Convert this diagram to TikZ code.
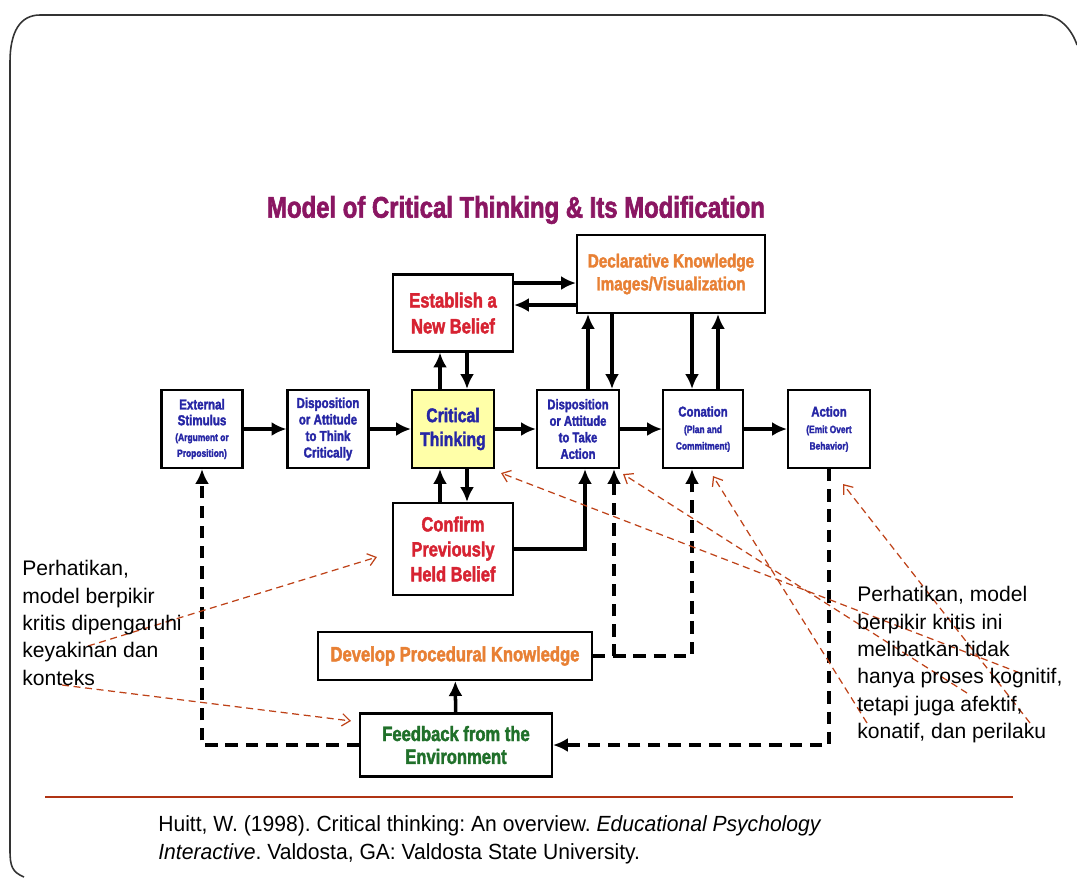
\documentclass[tikz,border=0pt]{standalone}
\usepackage{fontspec}
\setmainfont{Liberation Sans}
\newfontfamily\heavyfont[FakeStretch=0.8,FakeBold=2]{Liberation Sans}
\newfontfamily\citefont[FakeStretch=0.96]{Liberation Sans}
\usetikzlibrary{arrows.meta}
\pgfdeclarelayer{edgelayer}
\pgfdeclarelayer{nodelayer}
\pgfsetlayers{edgelayer,nodelayer,main}
\definecolor{ctblue}{RGB}{38,38,165}
\definecolor{ctred}{RGB}{215,35,50}
\definecolor{ctorange}{RGB}{232,128,52}
\definecolor{ctgreen}{RGB}{32,112,42}
\definecolor{ctpurple}{RGB}{138,22,98}
\definecolor{ctyellow}{RGB}{255,255,168}
\definecolor{notered}{RGB}{190,66,24}
\definecolor{rulered}{RGB}{176,52,20}
\tikzstyle{none}=[inner sep=0pt]
\tikzstyle{box}=[rectangle,draw=black,line width=1.2pt,fill=white,inner sep=0pt,align=center]
\tikzstyle{smallbox}=[style=box,minimum width=1.62cm,minimum height=1.56cm,text=ctblue]
\tikzstyle{thickarrow}=[-{Latex[length=8.5pt,width=8pt]},line width=2.3pt]
\tikzstyle{dasharrow}=[style=thickarrow,dash pattern=on 7pt off 4.5pt]
\tikzstyle{notearrow}=[-{Straight Barb[length=4.5pt,width=7pt]},draw=notered,line width=0.7pt,dash pattern=on 4pt off 2.6pt]
\tikzstyle{notetext}=[inner sep=0pt,align=left,font=\fontsize{12}{15.6}\selectfont]
\tikzstyle{title}=[inner sep=0pt,text=ctpurple,font=\heavyfont\bfseries\fontsize{17}{19}\selectfont]
\newcommand{\subline}[1]{{\fontsize{6}{8}\selectfont #1}}

\begin{document}
\frenchspacing
\begin{tikzpicture}[x=0.02cm,y=-0.02cm]
	\useasboundingbox (0,0) rectangle (1077,877);
	% slide frame
	\draw [line width=0.9pt, draw=black!80] (24,877) .. controls (12,872) and (10,866) .. (10,850) -- (10,62) .. controls (10,32) and (20,15) .. (40,15) -- (1042,15) .. controls (1060,15) and (1072,30) .. (1077,45);
	\begin{pgfonlayer}{nodelayer}
		\node [style=title] (title) at (516,210) {Model of Critical Thinking \& Its Modification};
		\node [style=smallbox, font=\heavyfont\bfseries\fontsize{8.2}{9}\selectfont] (es) at (202,429) {External\\Stimulus\\\subline{(Argument or}\\\subline{Proposition)}};
		\node [style=smallbox, font=\heavyfont\bfseries\fontsize{8.2}{9.4}\selectfont] (dt) at (328,429) {Disposition\\or Attitude\\to Think\\Critically};
		\node [style=smallbox, fill=ctyellow, minimum width=1.64cm, font=\heavyfont\bfseries\fontsize{11.2}{13.6}\selectfont] (ct) at (453,429) {Critical\\Thinking};
		\node [style=box, minimum width=2.4cm, minimum height=1.54cm, text=ctred, font=\heavyfont\bfseries\fontsize{11.8}{14.7}\selectfont] (est) at (453,313) {Establish a\\New Belief};
		\node [style=box, minimum width=2.4cm, minimum height=1.84cm, text=ctred, font=\heavyfont\bfseries\fontsize{11.7}{14.2}\selectfont] (conf) at (453,549) {Confirm\\Previously\\Held Belief};
		\node [style=box, minimum width=3.76cm, minimum height=1.56cm, text=ctorange, font=\heavyfont\bfseries\fontsize{10.8}{13}\selectfont] (decl) at (671,274) {Declarative Knowledge\\Images/Visualization};
		\node [style=smallbox, minimum width=1.64cm, font=\heavyfont\bfseries\fontsize{8}{9.4}\selectfont] (dta) at (578,429) {Disposition\\or Attitude\\to Take\\Action};
		\node [style=smallbox, minimum width=1.6cm, font=\heavyfont\bfseries\fontsize{8.1}{9.4}\selectfont] (con) at (703,429) {Conation\\\subline{(Plan and}\\\subline{Commitment)}};
		\node [style=smallbox, minimum width=1.64cm, font=\heavyfont\bfseries\fontsize{8.1}{9.4}\selectfont] (act) at (829,429) {Action\\\subline{(Emit Overt}\\\subline{Behavior)}};
		\node [style=box, minimum width=5.48cm, minimum height=0.96cm, text=ctorange, font=\heavyfont\bfseries\fontsize{11.8}{13}\selectfont] (dev) at (455,656) {Develop Procedural Knowledge};
		\node [style=box, minimum width=3.84cm, minimum height=1.26cm, text=ctgreen, font=\heavyfont\bfseries\fontsize{11.8}{13}\selectfont] (fb) at (456,745) {Feedback from the\\Environment};
		\node [style=notetext, anchor=north west] (leftnote) at (22,560) {Perhatikan,\\model berpikir\\kritis dipengaruhi\\keyakinan dan\\konteks};
		\node [style=notetext, anchor=north west] (rightnote) at (857,586) {Perhatikan, model\\berpikir kritis ini\\melibatkan tidak\\hanya proses kognitif,\\tetapi juga afektif,\\konatif, dan perilaku};
		\node [inner sep=0pt, anchor=north west, align=left, font=\citefont\fontsize{12.5}{16}\selectfont] (cite) at (158,815) {Huitt, W. (1998). Critical thinking: An overview. \textit{Educational Psychology}\\\textit{Interactive}. Valdosta, GA: Valdosta State University.};
		\coordinate (ltail1) at (88,646);
		\coordinate (ltail2) at (62,685);
		\coordinate (rtail1) at (1020,673);
		\coordinate (rtail2) at (967,693);
		\coordinate (rtail3) at (867,723);
		\coordinate (rtail4) at (1030,723);
	\end{pgfonlayer}
	\begin{pgfonlayer}{edgelayer}
		\draw [style=thickarrow] (es) to (dt);
		\draw [style=thickarrow] (dt) to (ct);
		\draw [style=thickarrow] (ct) to (dta);
		\draw [style=thickarrow] (dta) to (con);
		\draw [style=thickarrow] (con) to (act);
		\draw [style=thickarrow] ([xshift=-0.26cm]ct.north) to ([xshift=-0.26cm]est.south);
		\draw [style=thickarrow] ([xshift=0.28cm]est.south) to ([xshift=0.28cm]ct.north);
		\draw [style=thickarrow] ([xshift=-0.26cm]conf.north) to ([xshift=-0.26cm]ct.south);
		\draw [style=thickarrow] ([xshift=0.28cm]ct.south) to ([xshift=0.28cm]conf.north);
		\draw [style=thickarrow] ([yshift=0.6cm]est.east) to ([yshift=0.6cm]est.east -| decl.west);
		\draw [style=thickarrow] ([yshift=0.16cm]est.east -| decl.west) to ([yshift=0.16cm]est.east);
		\draw [style=thickarrow] ([xshift=0.2cm]dta.north) to ([xshift=0.2cm]dta.north |- decl.south);
		\draw [style=thickarrow] ([xshift=0.68cm]dta.north |- decl.south) to ([xshift=0.68cm]dta.north);
		\draw [style=thickarrow] ([xshift=-0.22cm]con.north |- decl.south) to ([xshift=-0.22cm]con.north);
		\draw [style=thickarrow] ([xshift=0.3cm]con.north) to ([xshift=0.3cm]con.north |- decl.south);
		\draw [style=thickarrow] (conf.east) -| ([xshift=0.14cm]dta.south);
		\draw [style=dasharrow] (dev.east) -| ([xshift=0.72cm]dta.south);
		\draw [style=dasharrow] (dev.east) -| ([xshift=-0.22cm]con.south);
		\draw [style=dasharrow] (act.south) |- (fb.east);
		\draw [style=dasharrow] (fb.west) -| (es.south);
		\draw [style=thickarrow, line width=2pt] (fb) to (dev);
		% notes
		\draw [style=notearrow] (ltail1) to ([xshift=-0.3cm,yshift=-0.16cm]conf.west);
		\draw [style=notearrow] (ltail2) to ([xshift=-0.16cm,yshift=-0.17cm]fb.north west);
		\draw [style=notearrow] (rtail1) to ([xshift=0.12cm,yshift=-0.08cm]ct.south east);
		\draw [style=notearrow] (rtail2) to ([xshift=0.06cm,yshift=-0.1cm]dta.south east);
		\draw [style=notearrow] (rtail3) to ([xshift=0.2cm,yshift=-0.14cm]con.south);
		\draw [style=notearrow] (rtail4) to ([xshift=0.28cm,yshift=-0.3cm]act.south);
	\end{pgfonlayer}
	\draw [draw=rulered, line width=1.6pt] (45,797) -- (1013,797);
\end{tikzpicture}
\end{document}
